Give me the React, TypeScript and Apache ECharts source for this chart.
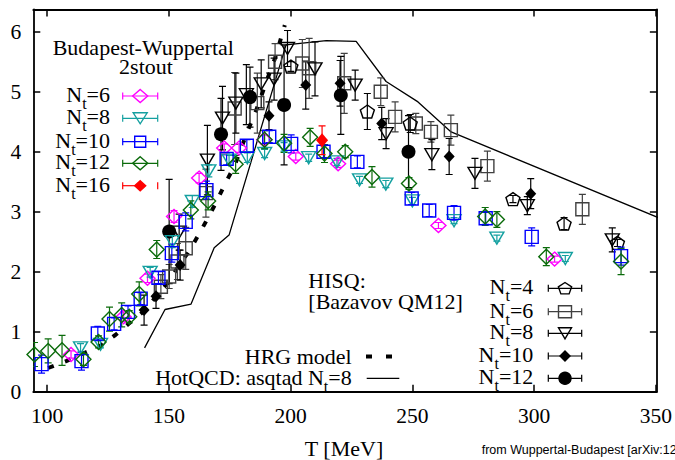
import React, { useEffect, useRef } from 'react';
import * as echarts from 'echarts';

// Axis ticks
const xTicks = [100, 150, 200, 250, 300, 350];
const yTicks = [0, 1, 2, 3, 4, 5, 6];

// Budapest-Wuppertal 2stout: [T (MeV), value, error]
const bwNt6 = [
  [109.8, 0.62, 0.06], [131.4, 1.25, 0.08], [141.2, 1.89, 0.07], [152.1, 2.92, 0.1],
  [162.4, 3.56, 0.08], [172.7, 4.06, 0.07], [178.8, 4.06, 0.07], [189.1, 4.2, 0.08],
  [202.1, 3.92, 0.06], [219.5, 3.8, 0.06], [260.7, 2.77, 0.05], [308.4, 2.21, 0.05],
];
const bwNt8 = [
  [113.7, 0.73, 0.07], [121.9, 0.79, 0.06], [142.3, 1.99, 0.08], [151.4, 2.5, 0.1],
  [159.6, 3.17, 0.1], [166.4, 3.68, 0.1], [174.7, 3.86, 0.08], [182.2, 3.9, 0.08],
  [189.3, 3.97, 0.07], [197.3, 4.08, 0.07], [207.4, 3.9, 0.06], [219.0, 3.83, 0.06],
  [228.3, 3.53, 0.06], [239.1, 3.46, 0.06], [250.0, 3.18, 0.06], [267.1, 2.85, 0.05],
  [284.7, 2.56, 0.05], [312.8, 2.22, 0.05],
];
const bwNt10 = [
  [97.7, 0.46, 0.15], [114.1, 0.51, 0.15], [120.8, 0.97, 0.12], [127.5, 1.13, 0.1],
  [133.2, 1.33, 0.1], [138.4, 1.55, 0.1], [145.7, 1.9, 0.1], [151.2, 2.31, 0.15],
  [156.9, 2.83, 0.15], [165.4, 3.36, 0.15], [173.7, 3.88, 0.1], [182.0, 4.1, 0.1],
  [191.2, 4.25, 0.1], [200.2, 4.13, 0.15], [213.5, 4.0, 0.1], [227.4, 3.83, 0.1],
  [249.7, 3.22, 0.1], [256.9, 3.02, 0.1], [267.1, 2.98, 0.12], [280.1, 2.89, 0.1],
  [299.0, 2.58, 0.15], [335.7, 2.26, 0.15],
];
const bwNt12 = [
  [94.8, 0.62, 0.2], [100.4, 0.68, 0.2], [106.1, 0.69, 0.25], [114.9, 0.54, 0.1],
  [121.1, 0.83, 0.1], [125.6, 1.21, 0.2], [130.6, 1.28, 0.2], [133.7, 1.25, 0.1],
  [137.8, 1.63, 0.2], [145.0, 2.37, 0.15], [159.0, 3.03, 0.15], [166.1, 3.18, 0.15],
  [177.4, 3.79, 0.15], [189.3, 4.2, 0.15], [197.3, 4.14, 0.15], [208.0, 4.24, 0.15],
  [213.9, 3.97, 0.15], [222.4, 4.0, 0.1], [233.4, 3.58, 0.17], [248.6, 3.47, 0.1],
  [279.9, 2.92, 0.15], [284.7, 2.87, 0.13], [305.0, 2.25, 0.15], [335.7, 2.17, 0.22],
];
const bwNt16 = [[212.9, 4.19, 0.24]];

// HISQ [Bazavov QM12]: [T (MeV), value, error]
const hisqNt4 = [
  [200.1, 5.42, 0.08], [231.5, 4.67, 0.3], [249.1, 4.47, 0.15], [291.3, 3.21, 0.06],
  [312.3, 2.8, 0.1], [334.2, 2.48, 0.06],
];
const hisqNt6 = [
  [146.7, 1.75, 0.2], [150.1, 1.92, 0.2], [153.5, 2.17, 0.3], [156.9, 2.39, 0.35],
  [165.2, 3.31, 0.4], [177.0, 4.72, 0.6], [186.3, 4.81, 0.5], [193.6, 5.5, 0.3],
  [204.8, 5.47, 0.4], [207.6, 5.39, 0.5], [222.0, 5.14, 0.5], [237.0, 5.0, 0.23],
  [242.9, 4.58, 0.25], [251.4, 4.47, 0.17], [257.6, 4.33, 0.17], [265.8, 4.36, 0.25],
  [280.8, 3.76, 0.25], [319.8, 3.04, 0.25],
];
const hisqNt8 = [
  [154.2, 2.66, 0.3], [165.8, 3.86, 0.58], [172.0, 4.56, 0.53], [177.5, 4.81, 0.5],
  [181.8, 4.95, 0.5], [187.9, 5.13, 0.4], [193.2, 5.21, 0.35], [198.7, 5.72, 0.3],
  [210.0, 5.38, 0.45], [226.5, 5.11, 0.25], [239.2, 4.3, 0.25], [258.0, 3.95, 0.25],
  [275.7, 3.64, 0.25], [297.2, 3.1, 0.15], [332.1, 2.53, 0.2],
];
const hisqNt10 = [
  [139.8, 1.36, 0.25], [144.7, 1.59, 0.2], [154.6, 2.11, 0.25], [191.1, 4.6, 0.23],
  [206.2, 5.11, 0.4], [220.3, 5.14, 0.38], [237.4, 4.47, 0.27], [265.1, 3.92, 0.3],
  [298.6, 3.3, 0.25],
];
const hisqNt12 = [
  [150.1, 2.67, 0.87], [171.4, 4.29, 0.6], [183.3, 4.91, 0.5], [197.3, 4.78, 1.0],
  [220.6, 4.94, 0.65], [248.4, 4.0, 0.6],
];

// Curves: [T (MeV), value]
const hrgModel = [
  [100.4, 0.395], [107.8, 0.51], [121.6, 0.76], [128.0, 0.945], [134.2, 1.157],
  [140.3, 1.36], [145.0, 1.6], [150.1, 1.845], [154.2, 2.11], [158.6, 2.36],
  [162.4, 2.63], [166.1, 2.9], [169.7, 3.18], [173.1, 3.47], [176.8, 3.75],
  [182.2, 4.33], [185.4, 4.64], [190.5, 5.22], [193.6, 5.56], [197.6, 6.11],
];
const hotqcdAsqtad = [
  [140.0, 0.73], [148.4, 1.37], [159.1, 1.46], [168.6, 2.4], [174.7, 2.61],
  [198.1, 5.78], [214.6, 5.85], [226.9, 5.84], [239.2, 5.17], [252.3, 4.83],
  [265.9, 4.33], [351.0, 2.9],
];

const FONT = '"Liberation Serif", "Times New Roman", serif';
const SANS = '"Liberation Sans", Arial, sans-serif';
const MAIN = 22;
const SUB = 16;

const PENT = 'path://M50,0 L97.55,34.55 L79.39,90.45 L20.61,90.45 L2.45,34.55 Z';

let measureCtx: CanvasRenderingContext2D | null = null;
function measure(text: string, size: number) {
  if (!measureCtx) measureCtx = document.createElement('canvas').getContext('2d');
  if (!measureCtx) return text.length * size * 0.5;
  measureCtx.font = `${size}px "Liberation Serif"`;
  return measureCtx.measureText(text).width;
}

function errSeries(data: number[][], color: string, z: number) {
  return {
    type: 'custom',
    data,
    clip: true,
    silent: true,
    z,
    encode: { x: 0, y: 1 },
    renderItem: (params: any, api: any) => {
      const x = api.value(0), y = api.value(1), e = api.value(2);
      const lo = api.coord([x, y - e]);
      const hi = api.coord([x, y + e]);
      const cap = 3.5;
      const style = { stroke: color, lineWidth: 1.2 };
      return {
        type: 'group',
        children: [
          { type: 'line', shape: { x1: lo[0], y1: lo[1], x2: hi[0], y2: hi[1] }, style },
          { type: 'line', shape: { x1: lo[0] - cap, y1: lo[1], x2: lo[0] + cap, y2: lo[1] }, style },
          { type: 'line', shape: { x1: hi[0] - cap, y1: hi[1], x2: hi[0] + cap, y2: hi[1] }, style },
        ],
      };
    },
  };
}

function symSeries(data: number[][], symbol: string, size: number[], color: string, filled: boolean, z: number, rotate = 0) {
  return {
    type: 'scatter',
    data: data.map((d) => [d[0], d[1]]),
    symbol,
    symbolSize: size,
    symbolRotate: rotate,
    clip: true,
    silent: true,
    z,
    itemStyle: {
      color: filled ? color : 'rgba(0,0,0,0)',
      borderColor: color,
      borderWidth: filled ? 0 : 1.4,
      opacity: 1,
    },
  };
}

function legendSymbol(kind: string, cx: number, cy: number, w: number, h: number, color: string, filled: boolean) {
  const style = { stroke: color, lineWidth: 1.4, fill: filled ? color : 'none' };
  if (kind === 'diamond') {
    return { type: 'polygon', shape: { points: [[cx, cy - h / 2], [cx + w / 2, cy], [cx, cy + h / 2], [cx - w / 2, cy]] }, style };
  }
  if (kind === 'tri') {
    return { type: 'polygon', shape: { points: [[cx - w / 2, cy - h / 2], [cx + w / 2, cy - h / 2], [cx, cy + h / 2]] }, style };
  }
  if (kind === 'rect') {
    return { type: 'rect', shape: { x: cx - w / 2, y: cy - h / 2, width: w, height: h }, style };
  }
  if (kind === 'circle') {
    return { type: 'circle', shape: { cx, cy, r: w / 2 }, style };
  }
  const pts: number[][] = [];
  for (let k = 0; k < 5; k++) {
    const a = (-90 + 72 * k) * Math.PI / 180;
    pts.push([cx + (w / 2) * Math.cos(a), cy + 0.5 + (h / 2) * Math.sin(a) * 1.05]);
  }
  return { type: 'polygon', shape: { points: pts }, style };
}

function legendRow(x1: number, x2: number, y: number, kind: string, w: number, h: number, color: string, filled: boolean, gapRight = false) {
  const ls = { stroke: color, lineWidth: 1.2 };
  const cx = (x1 + x2) / 2;
  const els: any[] = [
    { type: 'line', shape: { x1, y1: y, x2: gapRight ? cx : x2, y2: y }, style: ls },
    { type: 'line', shape: { x1, y1: y - 3.5, x2: x1, y2: y + 3.5 }, style: ls },
    { type: 'line', shape: { x1: x2, y1: y - 3.5, x2, y2: y + 3.5 }, style: ls },
  ];
  els.push(legendSymbol(kind, cx, y, w, h, color, filled));
  return els;
}

function txt(text: string, x: number, y: number, size: number, align = 'left', family = FONT) {
  return {
    type: 'text',
    x,
    y,
    style: { text, fontSize: size, fontFamily: family, fill: '#000', align, verticalAlign: 'middle' },
  };
}

// right-aligned "prefix N_t=val" at right edge xr, main text centred at y
function ntLabel(prefix: string, val: string, xr: number, y: number) {
  const tail = '=' + val;
  const head = prefix + 'N';
  const wTail = measure(tail, MAIN);
  const wSub = measure('t', SUB);
  const wHead = measure(head, MAIN);
  const xTail = xr - wTail;
  const xSub = xTail - wSub;
  const xHead = xSub - wHead;
  return [
    txt(head, xHead, y, MAIN),
    txt('t', xSub, y + 9, SUB),
    txt(tail, xTail, y, MAIN),
  ];
}

export default function App() {
  const ref = useRef<HTMLDivElement>(null);
  useEffect(() => {
    if (!ref.current) return;
    const chart = echarts.init(ref.current, null, { renderer: 'svg' });

    const axisCommon = {
      type: 'value',
      axisLine: { show: true, onZero: false, lineStyle: { color: '#000', width: 1.8 } },
      splitLine: { show: false },
    };

    const magenta = '#ff00ff';
    const cyan = '#14a0a0';
    const blue = '#0000ff';
    const green = '#0b6b0b';
    const red = '#ff0000';
    const gray = '#404040';
    const black = '#000000';

    const graphic: any[] = [];
    // top-left legend
    graphic.push(txt('Budapest-Wuppertal', 52.7, 47, MAIN));
    graphic.push(txt('2stout', 146, 66, MAIN, 'center'));
    const bwRows = [
      ['6', 96, 'diamond', 15, 13, magenta, false],
      ['8', 118.3, 'tri', 14, 11, cyan, false],
      ['10', 141.7, 'rect', 11, 11, blue, false],
      ['12', 163.3, 'diamond', 15, 13, green, false],
      ['16', 185.7, 'diamond', 11, 10, red, true],
    ] as any[];
    bwRows.forEach((r) => {
      graphic.push(...ntLabel('', r[0], 110, r[1] - 1.5));
      graphic.push(...legendRow(122.7, 157.7, r[1], r[2], r[3], r[4], r[5], r[6], r[0] === '16'));
    });

    // HISQ legend
    graphic.push(txt('HISQ:', 308.3, 280, MAIN));
    graphic.push(txt('[Bazavov QM12]', 308.3, 301.7, MAIN));
    const hisqRows = [
      ['4', 288.3, 'pent', 14, 12, black, false],
      ['6', 311.7, 'rect', 13, 12, gray, false],
      ['8', 333.3, 'tri', 13, 11, black, false],
      ['10', 356, 'diamond', 10, 10, black, true],
      ['12', 378.3, 'circle', 12, 12, black, true],
    ] as any[];
    hisqRows.forEach((r) => {
      graphic.push(...ntLabel('', r[0], 533.3, r[1] - 1.5));
      graphic.push(...legendRow(548.3, 581.7, r[1], r[2], r[3], r[4], r[5], r[6]));
    });

    // line legend
    graphic.push(txt('HRG model', 351.7, 356, MAIN, 'right'));
    graphic.push({ type: 'line', shape: { x1: 366, y1: 356.5, x2: 372, y2: 356.5 }, style: { stroke: '#000', lineWidth: 4 } });
    graphic.push({ type: 'line', shape: { x1: 386, y1: 356.5, x2: 392, y2: 356.5 }, style: { stroke: '#000', lineWidth: 4 } });
    graphic.push(...ntLabel('HotQCD: asqtad ', '8', 351.7, 377));
    graphic.push({ type: 'line', shape: { x1: 366.7, y1: 378.3, x2: 399.3, y2: 378.3 }, style: { stroke: '#000', lineWidth: 1.3 } });

    // axis title and source note
    graphic.push(txt('T [MeV]', 344, 448, MAIN, 'center'));
    graphic.push(txt('from Wuppertal-Budapest [arXiv:12', 481.7, 450, 12.5, 'left', SANS));

    chart.setOption({
      animation: false,
      backgroundColor: '#fff',
      grid: { left: 33.3, right: 17, top: 9.5, bottom: 68.3, containLabel: false },
      xAxis: [
        {
          ...axisCommon,
          min: 94.3,
          max: 350.4,
          position: 'bottom',
          axisTick: { show: true, inside: true, length: 7, customValues: xTicks, lineStyle: { color: '#000', width: 1.5 } },
          axisLabel: { show: true, customValues: xTicks, margin: 13, fontSize: 21.5, fontFamily: FONT, color: '#000', showMinLabel: true, showMaxLabel: true },
        },
        {
          ...axisCommon,
          min: 94.3,
          max: 350.4,
          position: 'top',
          axisTick: { show: true, inside: true, length: 7, customValues: xTicks, lineStyle: { color: '#000', width: 1.5 } },
          axisLabel: { show: false },
        },
      ],
      yAxis: [
        {
          ...axisCommon,
          min: 0,
          max: 6.37,
          position: 'left',
          axisTick: { show: true, inside: true, length: 7, customValues: yTicks, lineStyle: { color: '#000', width: 1.5 } },
          axisLabel: { show: true, customValues: yTicks, margin: 12, fontSize: 21.5, fontFamily: FONT, color: '#000' },
        },
        {
          ...axisCommon,
          min: 0,
          max: 6.37,
          position: 'right',
          axisTick: { show: true, inside: true, length: 7, customValues: yTicks, lineStyle: { color: '#000', width: 1.5 } },
          axisLabel: { show: false },
        },
      ],
      series: [
        {
          type: 'line', data: hotqcdAsqtad, symbol: 'none', showSymbol: false, silent: true, clip: true, z: 1,
          lineStyle: { color: '#000', width: 1.3 },
        },
        {
          type: 'line', data: hrgModel, symbol: 'none', showSymbol: false, silent: true, clip: true, z: 1,
          lineStyle: { color: '#000', width: 4, type: [6, 12], cap: 'butt' },
        },
        errSeries(hisqNt6, gray, 2), symSeries(hisqNt6, 'rect', [13, 13], gray, false, 2),
        errSeries(hisqNt4, black, 2), symSeries(hisqNt4, PENT, [14, 13], black, false, 2),
        errSeries(hisqNt8, black, 2), symSeries(hisqNt8, 'triangle', [14, 12], black, false, 2, 180),
        errSeries(hisqNt10, black, 2), symSeries(hisqNt10, 'diamond', [11, 12], black, true, 2),
        errSeries(hisqNt12, black, 2), symSeries(hisqNt12, 'circle', [14, 14], black, true, 2),
        errSeries(bwNt6, magenta, 3), symSeries(bwNt6, 'diamond', [15, 14], magenta, false, 3),
        errSeries(bwNt8, cyan, 3), symSeries(bwNt8, 'triangle', [14, 12], cyan, false, 3, 180),
        errSeries(bwNt10, blue, 3), symSeries(bwNt10, 'rect', [13, 13], blue, false, 3),
        errSeries(bwNt12, green, 3), symSeries(bwNt12, 'diamond', [15, 15], green, false, 3),
        errSeries(bwNt16, red, 3), symSeries(bwNt16, 'diamond', [12, 14], red, true, 3),
      ],
      graphic,
    });
    return () => chart.dispose();
  }, []);
  return <div ref={ref} style={{ position: 'fixed', left: 0, top: 0, width: 675, height: 460, background: '#fff' }} />;
}
